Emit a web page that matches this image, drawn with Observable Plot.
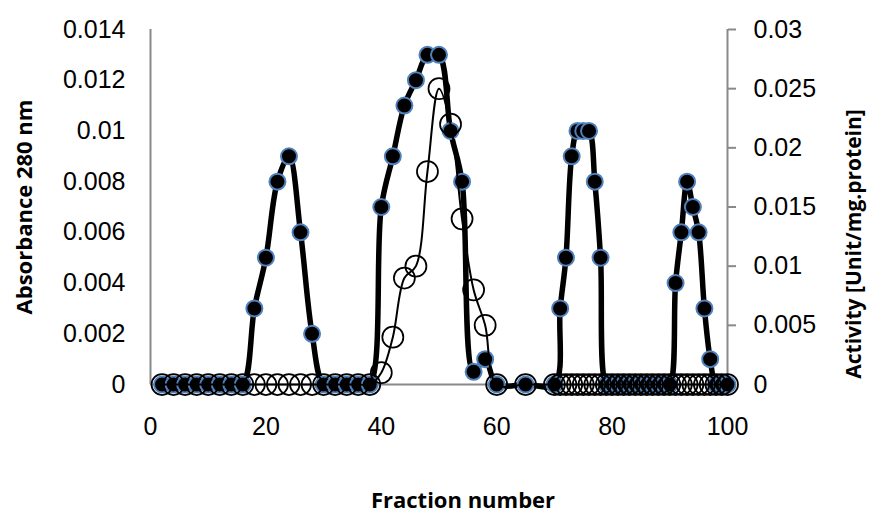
<!DOCTYPE html>
<html><head><meta charset="utf-8">
<script src="https://cdn.jsdelivr.net/npm/d3@7"></script>
<script src="https://cdn.jsdelivr.net/npm/@observablehq/plot@0.6"></script>
<style>body{margin:0;background:#fff}</style>
</head><body><div id="chart"></div>
<script>
const fractions = [2,4,6,8,10,12,14,16,18,20,22,24,26,28,30,32,34,36,38,40,42,44,46,48,50,52,54,56,58,60,
  65,
  70,71,72,73,74,75,76,77,78,79,80,81,82,83,84,85,86,87,88,89,90,91,92,93,94,95,96,97,98,99,100];
const absorbance = [0,0,0,0,0,0,0,0,
  0.003,0.005,0.008,0.009,0.006,0.002,
  0,0,0,0,0,
  0.007,0.009,0.011,0.012,0.013,0.013,0.010,0.008,0.0005,0.001,0,
  0,
  0,0.003,0.005,0.009,0.010,0.010,0.010,0.008,0.005,0,
  0,0,0,0,0,0,0,0,0,0,0,
  0.004,0.006,0.008,0.007,0.006,0.003,0.001,0,0,0];
const activity = [0,0,0,0,0,0,0,0,0,0,0,0,0,0,0,0,0,0,0,
  0.001,0.004,0.009,0.010,0.018,0.025,0.022,0.014,0.008,0.005,0,
  0,
  0,0,0,0,0,0,0,0,0,0,0,0,0,0,0,0,0,0,0,0,0,0,0,0,0,0,0,0,0,0,0];
const xTicks = [0,20,40,60,80,100];
const leftTicks = [0,0.002,0.004,0.006,0.008,0.01,0.012,0.014];
const rightTicks = [0,0.005,0.01,0.015,0.02,0.025,0.03];
const leftMax = 0.014, rightMax = 0.03;
const k = leftMax / rightMax;

const data = fractions.map((f, i) => ({f, a: absorbance[i], act: activity[i] * k}));
const gray = "#898989";
const tickFont = "Liberation Sans, Arial, sans-serif";
const titleFont = "Open Sans, sans-serif";
const fmt = d3.format("~g");

const chart = Plot.plot({
  width: 871, height: 516,
  marginTop: 29, marginBottom: 132, marginLeft: 150, marginRight: 144,
  x: {domain: [0, 100]},
  y: {domain: [0, leftMax]},
  marks: [
    Plot.ruleY([0], {x1: 0, x2: 100, stroke: gray, strokeWidth: 2}),
    Plot.ruleX([0, 100], {y1: 0, y2: leftMax, stroke: gray, strokeWidth: 2}),
    Plot.axisX(xTicks, {tickSize: 0, tickPadding: 33, fontSize: 25, fontFamily: tickFont, fill: "black", label: null, tickFormat: fmt}),
    Plot.axisY(leftTicks, {anchor: "left", tickSize: 0, tickPadding: 25, fontSize: 25, fontFamily: tickFont, fill: "black", label: null, tickFormat: fmt}),
    Plot.axisY(rightTicks.map(v => v * k), {anchor: "right", tickSize: 8, tickPadding: 18, stroke: gray, strokeWidth: 2, fontSize: 25, fontFamily: tickFont, fill: "black", label: null, tickFormat: d => fmt(+(d / k).toFixed(4))}),
    Plot.line(data, {x: "f", y: "a", curve: "catmull-rom", stroke: "black", strokeWidth: 5.5}),
    Plot.dot(data, {x: "f", y: "a", r: 8, fill: "black", stroke: "#4f81bd", strokeWidth: 2}),
    Plot.line(data, {x: "f", y: "act", curve: "catmull-rom", stroke: "black", strokeWidth: 2}),
    Plot.dot(data, {x: "f", y: "act", r: 10.5, fill: "none", stroke: "black", strokeWidth: 1.75}),
    Plot.text(["Absorbance 280 nm"], {frameAnchor: "left", dx: -126, rotate: -90, textAnchor: "middle", lineAnchor: "middle", fontSize: 22, fontWeight: "bold", fontFamily: titleFont, fill: "black"}),
    Plot.text(["Activity [Unit/mg.protein]"], {frameAnchor: "right", dx: 127, dy: 37, rotate: -90, textAnchor: "middle", lineAnchor: "middle", fontSize: 21, fontWeight: "bold", fontFamily: titleFont, fill: "black"}),
    Plot.text(["Fraction number"], {frameAnchor: "bottom", dx: 24, dy: 116, textAnchor: "middle", lineAnchor: "middle", fontSize: 22, fontWeight: "bold", fontFamily: titleFont, fill: "black"})
  ]
});
document.getElementById("chart").appendChild(chart);
</script>
</body></html>
